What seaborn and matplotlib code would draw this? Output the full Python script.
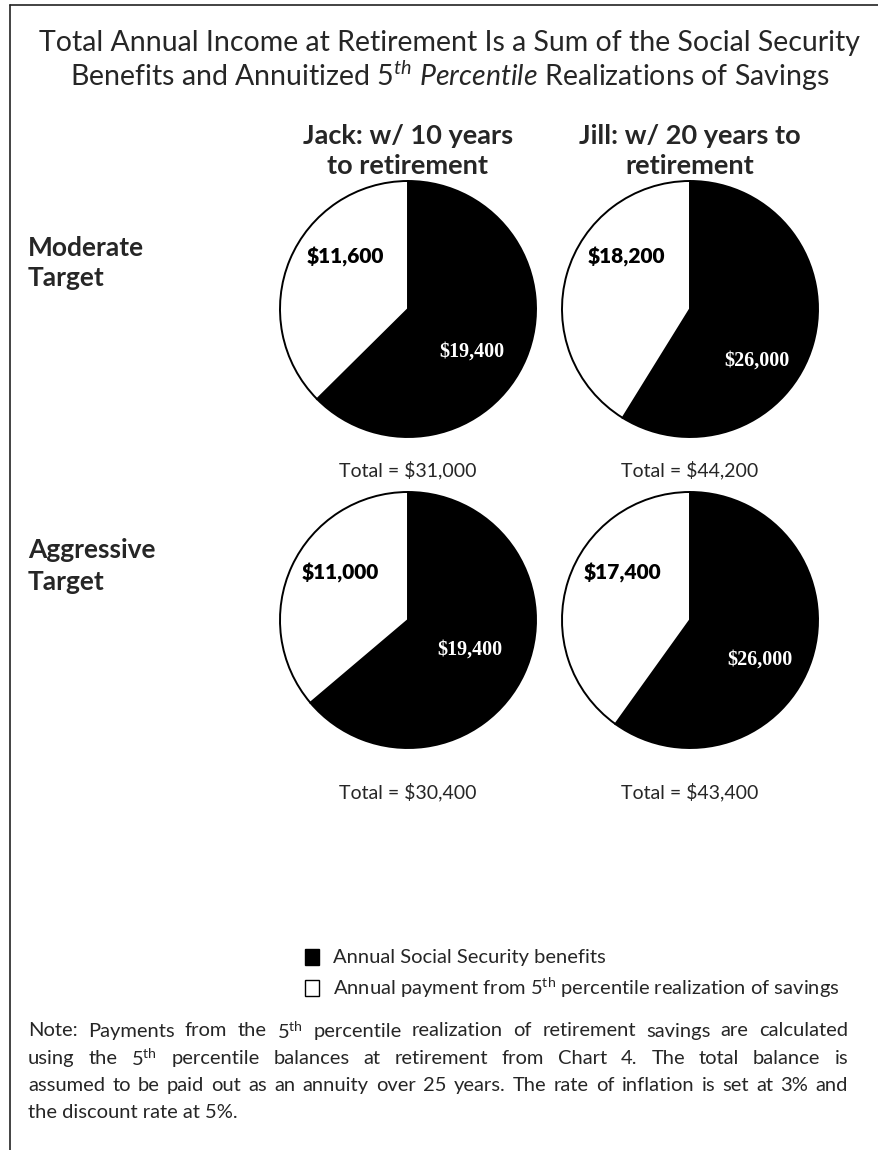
import matplotlib
matplotlib.use("Agg")
import matplotlib.pyplot as plt
from matplotlib.lines import Line2D
from matplotlib.patches import Rectangle
import seaborn as sns

# ---- data ----
people = ["Jack", "Jill"]
col_titles = ["Jack: w/ 10 years\nto retirement", "Jill: w/ 20 years to\nretirement"]
row_titles = ["Moderate\nTarget", "Aggressive\nTarget"]
social_security = [[19400, 26000], [19400, 26000]]   # rows: moderate, aggressive
savings_payment = [[11600, 18200], [11000, 17400]]
totals = [[31000, 44200], [30400, 43400]]
legend_labels = ["Annual Social Security benefits",
                 "Annual payment from 5$^{\\mathrm{th}}$ percentile realization of savings"]
colors = ["black", "white"]
note_lines = [
    "Note: Payments from the 5$^{\\mathrm{th}}$ percentile realization of retirement savings are calculated",
    "using the 5$^{\\mathrm{th}}$ percentile balances at retirement from Chart 4. The total balance is",
    "assumed to be paid out as an annuity over 25 years. The rate of inflation is set at 3% and",
    "the discount rate at 5%.",
]

sns.set_theme(style="white")
plt.rcParams["font.family"] = ["Lato", "DejaVu Sans"]
plt.rcParams["mathtext.fontset"] = "custom"
plt.rcParams["mathtext.rm"] = "Lato"
plt.rcParams["mathtext.it"] = "Lato:italic"
plt.rcParams["mathtext.bf"] = "Lato:bold"

W, H = 879, 1150
fig = plt.figure(figsize=(W / 100, H / 100), dpi=100)
fig.patch.set_facecolor("white")

def fx(x): return x / W
def fy(y): return 1 - y / H

# frame lines
fig.add_artist(Line2D([fx(10), fx(879)], [fy(5), fy(5)], color="#222222", lw=1.2))
fig.add_artist(Line2D([fx(10), fx(10)], [fy(5), fy(1150)], color="#222222", lw=1.2))

# title
fig.text(fx(450), fy(43), "Total Annual Income at Retirement Is a Sum of the Social Security",
         ha="center", va="center", fontsize=20.5)
fig.text(fx(450), fy(76), "Benefits and Annuitized $\\mathit{5^{th}\\ Percentile}$ Realizations of Savings",
         ha="center", va="center", fontsize=20.5)

# column & row headers
col_x = [408, 690]
row_y = [309, 620]
for j, t in enumerate(col_titles):
    fig.text(fx(col_x[j]), fy(151), t, ha="center", va="center", fontsize=19.5,
             fontweight="bold", linespacing=1.35)
row_label_y = [263, 566]
for i, t in enumerate(row_titles):
    fig.text(fx(28), fy(row_label_y[i]), t, ha="left", va="center", fontsize=19,
             fontweight="bold", linespacing=1.35)

R = 128
white_lbl_off = [[(-0.49, 0.41), (-0.5, 0.41)], [(-0.53, 0.37), (-0.53, 0.37)]]
black_lbl_off = [[(0.5, -0.33), (0.52, -0.4)], [(0.48, -0.23), (0.55, -0.31)]]
total_y = [470, 792]

for i in range(2):
    for j in range(2):
        cx, cy = col_x[j], row_y[i]
        pad = 4
        ax = fig.add_axes([fx(cx - R - pad), fy(cy + R + pad),
                           (2 * R + 2 * pad) / W, (2 * R + 2 * pad) / H])
        vals = [social_security[i][j], savings_payment[i][j]]
        ax.pie(vals, colors=colors, startangle=90, counterclock=False, radius=1,
               wedgeprops=dict(edgecolor="black", linewidth=1.4))
        lim = 1 + pad / R
        ax.set_xlim(-lim, lim)
        ax.set_ylim(-lim, lim)
        ax.set_aspect("equal")
        ax.axis("off")
        wx, wy = white_lbl_off[i][j]
        ax.text(wx, wy, f"${savings_payment[i][j]:,}", ha="center", va="center",
                fontsize=15, fontweight="heavy", color="black")
        bx, by = black_lbl_off[i][j]
        ax.text(bx, by, f"${social_security[i][j]:,}", ha="center", va="center",
                fontsize=14.5, fontweight="bold", color="white", family="Liberation Serif")
        fig.text(fx(cx), fy(total_y[i]), f"Total = ${totals[i][j]:,}", ha="center",
                 va="center", fontsize=14)

# legend
leg_y = [957, 988]
for k, lab in enumerate(legend_labels):
    fig.add_artist(Rectangle((fx(305), fy(leg_y[k] + 8)), 14 / W, 16 / H,
                             facecolor=colors[k], edgecolor="black", lw=1.0,
                             transform=fig.transFigure))
    fig.text(fx(333), fy(leg_y[k]), lab, ha="left", va="center", fontsize=14.5)

# note, justified between x=28 and x=848
renderer = fig.canvas.get_renderer()
left, right = 28, 848
for k, line in enumerate(note_lines):
    y = fy(1031 + 27.3 * k)
    if k == len(note_lines) - 1:
        fig.text(fx(left), y, line, ha="left", va="center", fontsize=14.5)
        continue
    words = line.split(" ")
    txts = [fig.text(0, y, w, ha="left", va="center", fontsize=14.5) for w in words]
    widths = [t.get_window_extent(renderer).width for t in txts]
    gap = (right - left - sum(widths)) / (len(words) - 1)
    x = left
    for t, wd in zip(txts, widths):
        t.set_x(fx(x))
        x += wd + gap

fig.savefig("out.png", dpi=100, facecolor="white")
